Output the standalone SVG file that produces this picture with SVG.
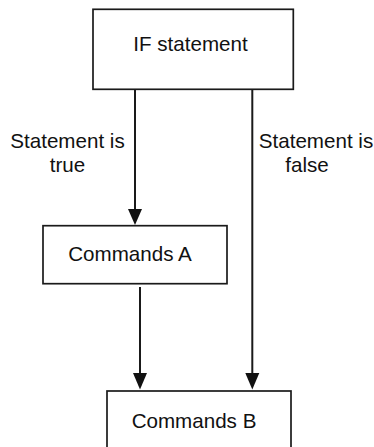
<svg xmlns="http://www.w3.org/2000/svg" width="374" height="447" viewBox="0 0 374 447">
<style>
.box{fill:#fff;stroke:#1a1a1a;stroke-width:1.7}
.lbl{font-family:"Liberation Sans",Arial,sans-serif;font-size:20.6px;fill:#111;text-anchor:middle}
.edge{stroke:#1a1a1a;stroke-width:2;fill:none}
</style>
<defs>
<marker id="arr" markerUnits="userSpaceOnUse" markerWidth="16" markerHeight="16" viewBox="0 0 16 16" refX="8" refY="16" orient="auto-start-reverse">
<path d="M1,0 L15,0 L8,16 Z" fill="#111"/>
</marker>
</defs>
<rect width="374" height="447" fill="#fff"/>
<g id="connectors">
<line class="edge" x1="135" y1="90" x2="135" y2="210"/>
<path d="M128,209 L142,209 L135,225 Z" fill="#111"/>
<line class="edge" x1="140" y1="287" x2="140" y2="374"/>
<path d="M133,373 L147,373 L140,389.5 Z" fill="#111"/>
<line class="edge" x1="252.3" y1="90" x2="252.3" y2="374"/>
<path d="M245.3,373 L259.3,373 L252.3,389.5 Z" fill="#111"/>
</g>
<g id="if">
<rect class="box" x="93" y="9.3" width="200.3" height="80"/>
<text class="lbl" x="190.5" y="51">IF statement</text>
</g>
<g id="label-true">
<text class="lbl" x="67.5" y="147.7">Statement is</text>
<text class="lbl" x="67.5" y="171.7">true</text>
</g>
<g id="label-false">
<text class="lbl" x="316" y="147.7">Statement is</text>
<text class="lbl" x="307" y="171.7">false</text>
</g>
<g id="commandsA">
<rect class="box" x="43" y="225.7" width="184" height="58"/>
<text class="lbl" x="130" y="260.5">Commands A</text>
</g>
<g id="commandsB">
<rect class="box" x="107" y="391" width="184" height="70"/>
<text class="lbl" x="194" y="428.3">Commands B</text>
</g>
</svg>
